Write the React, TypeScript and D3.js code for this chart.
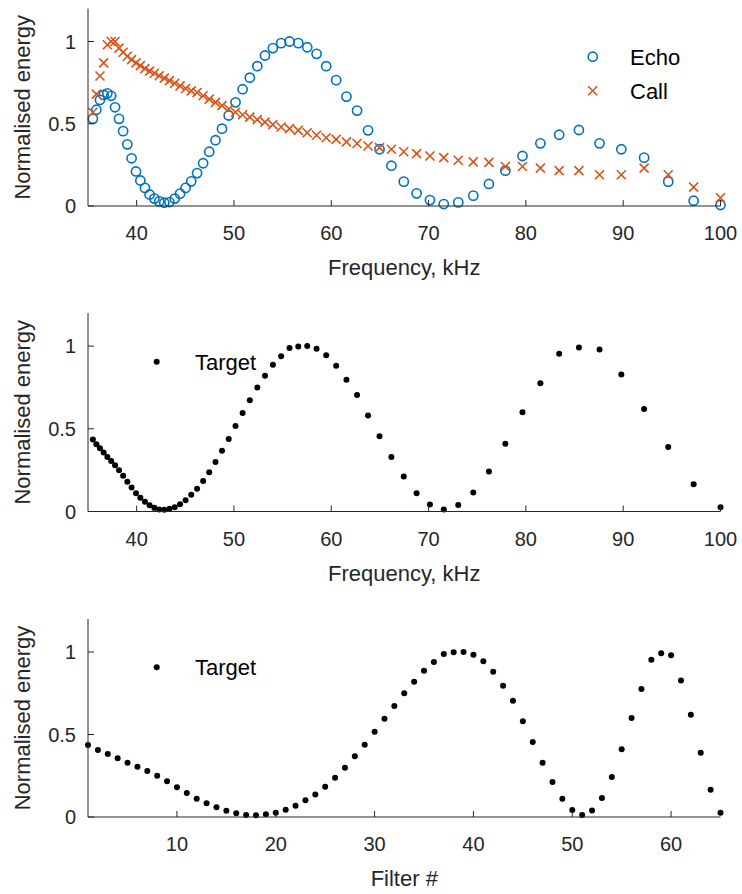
import React from 'react';
import * as d3 from 'd3';

// filter centre frequencies (kHz), filters 1..65
const freqKHz = [
  35.5, 35.86, 36.23, 36.61, 36.99, 37.38, 37.78, 38.19, 38.61, 39.04,
  39.48, 39.93, 40.38, 40.85, 41.33, 41.82, 42.32, 42.84, 43.37, 43.91,
  44.46, 45.03, 45.61, 46.21, 46.83, 47.46, 48.1, 48.77, 49.46, 50.16,
  50.89, 51.63, 52.4, 53.19, 54.0, 54.85, 55.71, 56.61, 57.53, 58.49,
  59.48, 60.5, 61.56, 62.65, 63.78, 64.96, 66.18, 67.45, 68.77, 70.14,
  71.56, 73.05, 74.59, 76.2, 77.89, 79.65, 81.49, 83.42, 85.45, 87.57,
  89.81, 92.15, 94.63, 97.24, 100.0,
];

const filterNo = [
  1, 2, 3, 4, 5, 6, 7, 8, 9, 10, 11, 12, 13, 14, 15, 16, 17, 18, 19, 20,
  21, 22, 23, 24, 25, 26, 27, 28, 29, 30, 31, 32, 33, 34, 35, 36, 37, 38, 39, 40,
  41, 42, 43, 44, 45, 46, 47, 48, 49, 50, 51, 52, 53, 54, 55, 56, 57, 58, 59, 60,
  61, 62, 63, 64, 65,
];

const echo = [
  0.53, 0.585, 0.645, 0.675, 0.685, 0.67, 0.6, 0.53, 0.455, 0.375,
  0.29, 0.21, 0.155, 0.11, 0.07, 0.045, 0.028, 0.02, 0.024, 0.045,
  0.075, 0.11, 0.15, 0.2, 0.26, 0.33, 0.4, 0.47, 0.55, 0.63,
  0.71, 0.78, 0.85, 0.915, 0.96, 0.99, 1.0, 0.99, 0.965, 0.925,
  0.85, 0.765, 0.665, 0.58, 0.46, 0.345, 0.245, 0.148, 0.077, 0.036,
  0.012, 0.022, 0.063, 0.134, 0.215, 0.304, 0.381, 0.433, 0.462, 0.381,
  0.345, 0.294, 0.148, 0.032, 0.006,
];

const call = [
  0.57, 0.68, 0.79, 0.87, 0.98, 1.0, 1.0, 0.96, 0.935, 0.91,
  0.89, 0.87, 0.853, 0.835, 0.82, 0.807, 0.792, 0.777, 0.762, 0.746,
  0.73, 0.714, 0.7, 0.69, 0.67, 0.65, 0.63, 0.61, 0.59, 0.57,
  0.555, 0.54, 0.525, 0.51, 0.495, 0.48, 0.47, 0.46, 0.445, 0.43,
  0.415, 0.405, 0.39, 0.38, 0.365, 0.355, 0.345, 0.33, 0.318, 0.304,
  0.294, 0.278, 0.268, 0.265, 0.24, 0.24, 0.23, 0.215, 0.215, 0.19,
  0.19, 0.23, 0.19, 0.115, 0.05,
];

const target = [
  0.436, 0.406, 0.382, 0.356, 0.329, 0.305, 0.279, 0.25, 0.216, 0.18,
  0.145, 0.111, 0.083, 0.059, 0.038, 0.022, 0.012, 0.01, 0.016, 0.026,
  0.044, 0.068, 0.101, 0.137, 0.184, 0.238, 0.299, 0.368, 0.438, 0.517,
  0.596, 0.673, 0.75, 0.82, 0.887, 0.939, 0.988, 0.998, 1.0, 0.984,
  0.944, 0.881, 0.796, 0.705, 0.58, 0.455, 0.329, 0.212, 0.111, 0.042,
  0.012, 0.04, 0.115, 0.242, 0.41, 0.6, 0.776, 0.953, 0.992, 0.98,
  0.828, 0.62, 0.39, 0.165, 0.026,
];

const freqTicks = [40, 50, 60, 70, 80, 90, 100];
const filterTicks = [10, 20, 30, 40, 50, 60];
const energyTicks = [0, 0.5, 1];

const AXIS = '#262626';
const BLUE = '#0072BD';
const ORANGE = '#D95319';
const FONT = '"Liberation Sans", Arial, Helvetica, sans-serif';

const X0 = 88;
const X1 = 720.5;

const crossPath = 'M-4.5,-4.5L4.5,4.5M-4.5,4.5L4.5,-4.5';

type PanelProps = {
  top: number;
  bottom: number;
  xDomain: [number, number];
  xTicks: number[];
  xLabel: string;
  children: (x: d3.ScaleLinear<number, number>, y: d3.ScaleLinear<number, number>) => React.ReactNode;
};

const Panel = ({ top, bottom, xDomain, xTicks, xLabel, children }: PanelProps) => {
  const x = d3.scaleLinear().domain(xDomain).range([X0, X1]);
  const y = d3.scaleLinear().domain([0, 1.2]).range([bottom, top]);
  const fmt = (v: number) => (v === 0.5 ? '0.5' : String(v));
  return (
    <g>
      {children(x, y)}
      {/* axes */}
      <line x1={X0} x2={X0} y1={top} y2={bottom} stroke={AXIS} strokeWidth={1} />
      <line x1={X0} x2={X1} y1={bottom} y2={bottom} stroke={AXIS} strokeWidth={1} />
      {energyTicks.map((t) => (
        <g key={'y' + t}>
          <line x1={X0} x2={X0 + 6} y1={y(t)} y2={y(t)} stroke={AXIS} />
          <text x={X0 - 12} y={y(t)} dy="0.35em" textAnchor="end" fontSize={20} fill={AXIS}>
            {fmt(t)}
          </text>
        </g>
      ))}
      {xTicks.map((t) => (
        <g key={'x' + t}>
          <line x1={x(t)} x2={x(t)} y1={bottom} y2={bottom - 6} stroke={AXIS} />
          <text x={x(t)} y={bottom + 34} textAnchor="middle" fontSize={20} fill={AXIS}>
            {t}
          </text>
        </g>
      ))}
      <text x={(X0 + X1) / 2} y={bottom + 69} textAnchor="middle" fontSize={22} fill={AXIS}>
        {xLabel}
      </text>
      <text
        transform={`translate(30,${(top + bottom) / 2}) rotate(-90)`}
        textAnchor="middle"
        fontSize={22}
        fill={AXIS}
      >
        Normalised energy
      </text>
    </g>
  );
};

export default function App() {
  return (
    <svg
      width={742}
      height={894}
      style={{ position: 'absolute', left: 0, top: 0, background: '#fff' }}
      fontFamily={FONT}
    >
      <rect width={742} height={894} fill="#fff" />
      <Panel top={8.6} bottom={206} xDomain={[35, 100]} xTicks={freqTicks} xLabel="Frequency, kHz">
        {(x, y) => (
          <g>
            {freqKHz.map((f, i) => (
              <circle key={'e' + i} cx={x(f)} cy={y(echo[i])} r={4.6} fill="none" stroke={BLUE} strokeWidth={1.6} />
            ))}
            {freqKHz.map((f, i) => (
              <path key={'c' + i} d={crossPath} transform={`translate(${x(f)},${y(call[i])})`} stroke={ORANGE} strokeWidth={1.6} fill="none" />
            ))}
            <circle cx={592.7} cy={56.7} r={4.6} fill="none" stroke={BLUE} strokeWidth={1.6} />
            <text x={630} y={65} fontSize={22} fill="#000">Echo</text>
            <path d={crossPath} transform="translate(592.7,90.7)" stroke={ORANGE} strokeWidth={1.6} fill="none" />
            <text x={630} y={99} fontSize={22} fill="#000">Call</text>
          </g>
        )}
      </Panel>
      <Panel top={313} bottom={511.5} xDomain={[35, 100]} xTicks={freqTicks} xLabel="Frequency, kHz">
        {(x, y) => (
          <g>
            {freqKHz.map((f, i) => (
              <circle key={'t' + i} cx={x(f)} cy={y(target[i])} r={3} fill="#000" />
            ))}
            <circle cx={156.7} cy={361.7} r={3} fill="#000" />
            <text x={195} y={370} fontSize={22} fill="#000">Target</text>
          </g>
        )}
      </Panel>
      <Panel top={619} bottom={817} xDomain={[1, 65]} xTicks={filterTicks} xLabel="Filter #">
        {(x, y) => (
          <g>
            {filterNo.map((n, i) => (
              <circle key={'b' + i} cx={x(n)} cy={y(target[i])} r={3} fill="#000" />
            ))}
            <circle cx={156.7} cy={667.3} r={3} fill="#000" />
            <text x={195} y={675} fontSize={22} fill="#000">Target</text>
          </g>
        )}
      </Panel>
    </svg>
  );
}
